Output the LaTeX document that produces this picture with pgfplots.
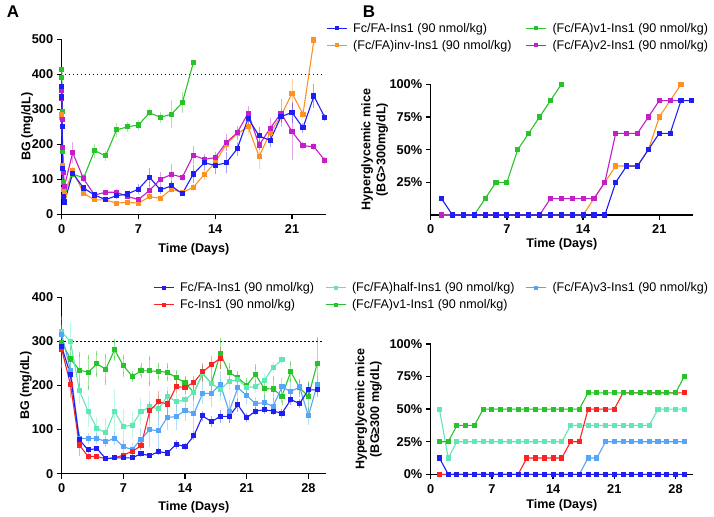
\documentclass[border=0pt]{standalone}
\usepackage{fontspec}
\setmainfont{Liberation Sans}
\usepackage{pgfplots}
\pgfplotsset{compat=1.18}
\definecolor{cblue}{RGB}{30,30,245}
\definecolor{corange}{RGB}{255,145,35}
\definecolor{cgreen}{RGB}{40,195,40}
\definecolor{cmag}{RGB}{195,30,200}
\definecolor{cred}{RGB}{250,35,35}
\definecolor{cmint}{RGB}{95,232,180}
\definecolor{clblue}{RGB}{85,165,250}
\newcommand{\fs}{\fontsize{12.6}{15}\selectfont}
\newcommand{\ft}{\fontsize{12.8}{15}\selectfont}
\pgfplotsset{
  panel/.style={
    scale only axis, axis lines=left, axis line style={line width=1.4bp,-},
    tick align=outside, major tick length=5bp, tick style={line width=1.3bp, black},
    clip=false,
    tick label style={font=\bfseries\ft},
    xticklabel style={yshift=-1.5bp},
    /pgf/number format/assume math mode=true,
    label style={font=\bfseries\fs},
    legend image code/.code={\draw[mark repeat=2, mark phase=2, line width=1bp, mark size=1.5bp] plot coordinates {(0bp,0bp)(10bp,0bp)(20bp,0bp)};},
  },
  ser/.style={color=#1, mark=square*, mark size=2bp, line width=1.1bp, mark options={solid}},
  eb/.style={/pgfplots/error bars/y dir=both, /pgfplots/error bars/y explicit,
    /pgfplots/error bars/error mark=none,
    /pgfplots/error bars/error bar style={line width=1bp, opacity=0.4}},
  ebc/.style={/pgfplots/error bars/y dir=both, /pgfplots/error bars/y explicit,
    /pgfplots/error bars/error mark=-,
    /pgfplots/error bars/error mark options={mark size=2.2bp, line width=0.9bp, opacity=0.5},
    /pgfplots/error bars/error bar style={line width=1bp, opacity=0.4}},
}
\begin{document}
\begin{tikzpicture}
\path[use as bounding box] (0,0) rectangle (714bp,517bp);
\node[font=\bfseries\fontsize{17}{17}\selectfont] at (13bp,505bp) {A};
\node[font=\bfseries\fontsize{17}{17}\selectfont] at (369bp,505bp) {B};

% ---------------- top left
\begin{axis}[panel,
  at={(61.7bp,302.7bp)}, anchor=south west, width=264.3bp, height=175bp,
  xmin=0, xmax=24.1, ymin=0, ymax=500,
  xtick={0,7,14,21}, ytick={0,100,200,300,400,500},
  xlabel={Time (Days)}, ylabel={BG (mg/dL)},
  xlabel style={at={(rel axis cs:0.5,-0.2)}, anchor=center},
  ylabel style={at={(rel axis cs:-0.131,0.5)}, anchor=center},
  legend columns=2, transpose legend, legend cell align=left,
  legend style={at={(rel axis cs:1.0,1.105)}, anchor=north west, draw=none, fill=none,
    inner sep=0pt, font=\fs, row sep=2.5bp,
    /tikz/every odd column/.append style={column sep=4bp},
    /tikz/every even column/.append style={column sep=12bp}},
]
\addplot[forget plot, mark=none, black, line width=1.3bp, dash pattern=on 1.3bp off 2.7bp] coordinates {(0.3,400) (24,400)};
\addplot[forget plot, ser=cgreen, eb] table[x=x,y=y,y error=e] {
x y e
0 414 0
0.02 391 0
0.04 293 0
0.08 180 0
0.17 90 0
0.25 65 0
1 115 10
2 104 10
3 182 20
4 167 15
5 241 20
6 250 15
7 255 15
8 290 10
9 277 15
10 286 40
11 319 30
12 433 0
};
\addplot[forget plot, ser=corange, eb] table[x=x,y=y,y error=e] {
x y e
0 285 0
0.02 278 0
0.04 270 0
0.08 140 0
0.17 70 0
0.25 55 0
1 125 10
2 60 8
3 41 5
4 41 5
5 32 5
6 34 5
7 32 5
8 50 8
9 46 8
10 72 10
11 62 8
12 77 10
13 114 15
14 148 20
15 200 20
16 230 15
17 250 20
18 165 35
19 233 20
20 281 20
21 346 40
22 286 10
23 498 0
};
\addplot[forget plot, ser=cmag, eb] table[x=x,y=y,y error=e] {
x y e
0 355 0
0.02 330 0
0.04 270 0
0.08 190 0
0.17 120 0
0.25 80 0
1 176 30
2 101 10
3 55 6
4 63 6
5 63 8
6 51 6
7 42 6
8 68 15
9 100 20
10 114 30
11 106 10
12 169 25
13 157 15
14 162 15
15 205 25
16 233 20
17 289 20
18 198 15
19 245 30
20 289 40
21 236 80
22 196 10
23 193 10
24 154 10
};
\addplot[forget plot, ser=cblue, eb] table[x=x,y=y,y error=e] {
x y e
0 365 0
0.02 335 0
0.04 252 0
0.08 130 0
0.17 50 0
0.25 35 0
1 117 10
2 75 8
3 55 5
4 42 5
5 53 8
6 58 8
7 72 15
8 106 25
9 70 12
10 81 15
11 59 8
12 115 25
13 147 20
14 140 25
15 147 30
16 187 20
17 274 15
18 224 25
19 211 20
20 279 15
21 291 30
22 247 15
23 338 35
24 276 10
};
\addlegendimage{ser=cblue}\addlegendentry{\mdseries Fc/FA-Ins1 (90 nmol/kg)}
\addlegendimage{ser=corange}\addlegendentry{\mdseries (Fc/FA)inv-Ins1 (90 nmol/kg)}
\addlegendimage{ser=cgreen}\addlegendentry{\mdseries (Fc/FA)v1-Ins1 (90 nmol/kg)}
\addlegendimage{ser=cmag}\addlegendentry{\mdseries (Fc/FA)v2-Ins1 (90 nmol/kg)}
\end{axis}

% ---------------- top right
\begin{axis}[panel,
  at={(430.7bp,302bp)}, anchor=south west, width=262.3bp, height=130.7bp,
  xmin=0, xmax=24.1, ymin=0, ymax=100,
  xtick={0,7,14,21}, ytick={25,50,75,100}, yticklabels={25\%,50\%,75\%,100\%},
  xlabel={Time (Days)}, ylabel={Hyperglycemic mice\\(BG>300mg/dL)},
  xlabel style={at={(rel axis cs:0.5,-0.222)}, anchor=center},
  ylabel style={at={(rel axis cs:-0.214,0.5)}, anchor=center, align=center},
]
\addplot[ser=corange] coordinates {(1,0)(2,0)(3,0)(4,0)(5,0)(6,0)(7,0)(8,0)(9,0)(10,0)(11,0)(12,0)(13,0)(14,0)(15,12.5)(16,25)(17,37.5)(18,37.5)(19,37.5)(20,50)(21,75)(22,87.5)(23,100)};
\addplot[ser=cgreen] coordinates {(1,0)(2,0)(3,0)(4,0)(5,12.5)(6,25)(7,25)(8,50)(9,62.5)(10,75)(11,87.5)(12,100)};
\addplot[ser=cmag] coordinates {(1,0)(2,0)(3,0)(4,0)(5,0)(6,0)(7,0)(8,0)(9,0)(10,0)(11,12.5)(12,12.5)(13,12.5)(14,12.5)(15,12.5)(16,25)(17,62.5)(18,62.5)(19,62.5)(20,75)(21,87.5)(22,87.5)(23,87.5)};
\addplot[ser=cblue] coordinates {(1,12.5)(2,0)(3,0)(4,0)(5,0)(6,0)(7,0)(8,0)(9,0)(10,0)(11,0)(12,0)(13,0)(14,0)(15,0)(16,0)(17,25)(18,37.5)(19,37.5)(20,50)(21,62.5)(22,62.5)(23,87.5)(24,87.5)};
\end{axis}

% ---------------- bottom left
\begin{axis}[panel,
  at={(61.7bp,43.3bp)}, anchor=south west, width=264.3bp, height=176.4bp,
  xmin=0, xmax=30, ymin=0, ymax=400,
  xtick={0,7,14,21,28}, ytick={0,100,200,300,400},
  xlabel={Time (Days)}, ylabel={BG (mg/dL)},
  xlabel style={at={(rel axis cs:0.5,-0.192)}, anchor=center},
  ylabel style={at={(rel axis cs:-0.135,0.5)}, anchor=center},
  legend columns=3, legend cell align=left,
  legend style={at={(rel axis cs:0.345,1.098)}, anchor=north west, draw=none, fill=none,
    inner sep=0pt, font=\fs, row sep=2.5bp,
    /tikz/every odd column/.append style={column sep=4bp},
    /tikz/every even column/.append style={column sep=9bp}},
]
\addplot[forget plot, mark=none, black, line width=1.3bp, dash pattern=on 1.3bp off 2.7bp] coordinates {(0.3,300) (29.8,300)};
\addplot[forget plot, ser=cgreen, ebc] table[x=x,y=y,y error=e] {
x y e
0 298 55
1 260 25
2 235 35
3 230 35
4 249 25
5 237 30
6 281 20
7 245 20
8 221 8
9 233 12
10 233 30
11 232 15
12 230 15
13 218 12
14 206 10
15 184 12
16 227 15
17 205 15
18 272 30
19 230 15
20 217 10
21 201 12
22 225 18
23 193 20
24 192 25
25 176 15
26 231 20
27 195 15
28 175 30
29 250 55
};
\addplot[forget plot, ser=cmint, eb] table[x=x,y=y,y error=e] {
x y e
0 322 15
1 299 45
2 189 30
3 141 35
4 103 25
5 93 30
6 141 50
7 107 40
8 110 30
9 141 30
10 152 35
11 147 30
12 176 20
13 163 20
14 168 20
15 184 20
16 227 20
17 205 20
18 190 25
19 210 20
20 213 20
21 196 15
22 197 15
23 212 15
24 241 12
25 258 10
};
\addplot[forget plot, ser=clblue, eb] table[x=x,y=y,y error=e] {
x y e
0 316 10
1 235 20
2 80 15
3 80 12
4 80 12
5 73 12
6 80 15
7 61 15
8 55 15
9 78 25
10 100 40
11 97 40
12 128 30
13 129 30
14 144 25
15 136 40
16 182 25
17 182 30
18 203 30
19 141 25
20 195 20
21 177 20
22 159 15
23 161 15
24 153 15
25 197 20
26 186 20
27 197 15
28 131 20
29 202 20
};
\addplot[forget plot, ser=cred, eb] table[x=x,y=y,y error=e] {
x y e
0 282 10
1 202 30
2 65 25
3 39 8
4 39 5
5 34 5
6 36 5
7 42 6
8 51 8
9 63 10
10 143 20
11 163 25
12 158 30
13 197 15
14 196 15
15 207 15
16 231 20
17 247 20
18 262 25
};
\addplot[forget plot, ser=cblue, eb] table[x=x,y=y,y error=e] {
x y e
0 288 8
1 224 10
2 77 8
3 54 6
4 57 5
5 34 4
6 36 4
7 36 4
8 36 4
9 45 6
10 41 5
11 50 8
12 47 6
13 67 10
14 61 8
15 86 10
16 131 12
17 118 12
18 130 15
19 130 15
20 156 15
21 127 10
22 142 10
23 145 10
24 142 10
25 137 10
26 168 12
27 159 10
28 190 15
29 190 15
};
\addlegendimage{ser=cblue}\addlegendentry{\mdseries Fc/FA-Ins1 (90 nmol/kg)}
\addlegendimage{ser=cmint}\addlegendentry{\mdseries (Fc/FA)half-Ins1 (90 nmol/kg)}
\addlegendimage{ser=clblue}\addlegendentry{\mdseries (Fc/FA)v3-Ins1 (90 nmol/kg)}
\addlegendimage{ser=cred}\addlegendentry{\mdseries Fc-Ins1 (90 nmol/kg)}
\addlegendimage{ser=cgreen}\addlegendentry{\mdseries (Fc/FA)v1-Ins1 (90 nmol/kg)}
\end{axis}

% ---------------- bottom right
\begin{axis}[panel,
  at={(430.7bp,42.7bp)}, anchor=south west, width=262.3bp, height=130.3bp,
  xmin=0, xmax=30, ymin=0, ymax=100,
  xtick={0,7,14,21,28}, ytick={0,25,50,75,100}, yticklabels={0\%,25\%,50\%,75\%,100\%},
  xlabel={Time (Days)}, ylabel={Hyperglycemic mice\\(BG≥300 mg/dL)},
  xlabel style={at={(rel axis cs:0.5,-0.235)}, anchor=center},
  ylabel style={at={(rel axis cs:-0.237,0.5)}, anchor=center, align=center},
]
\addplot[ser=clblue] coordinates {(1,0)(2,0)(3,0)(4,0)(5,0)(6,0)(7,0)(8,0)(9,0)(10,0)(11,0)(12,0)(13,0)(14,0)(15,0)(16,0)(17,0)(18,12.5)(19,12.5)(20,25)(21,25)(22,25)(23,25)(24,25)(25,25)(26,25)(27,25)(28,25)(29,25)};
\addplot[ser=cmint] coordinates {(1,50)(2,12.5)(3,25)(4,25)(5,25)(6,25)(7,25)(8,25)(9,25)(10,25)(11,25)(12,25)(13,25)(14,25)(15,25)(16,37.5)(17,37.5)(18,37.5)(19,37.5)(20,37.5)(21,37.5)(22,37.5)(23,37.5)(24,37.5)(25,37.5)(26,50)(27,50)(28,50)(29,50)};
\addplot[ser=cred] coordinates {(1,0)(2,0)(3,0)(4,0)(5,0)(6,0)(7,0)(8,0)(9,0)(10,0)(11,12.5)(12,12.5)(13,12.5)(14,12.5)(15,12.5)(16,25)(17,25)(18,50)(19,50)(20,50)(21,50)(22,62.5)(23,62.5)(24,62.5)(25,62.5)(26,62.5)(27,62.5)(28,62.5)(29,62.5)};
\addplot[ser=cgreen] coordinates {(1,25)(2,25)(3,37.5)(4,37.5)(5,37.5)(6,50)(7,50)(8,50)(9,50)(10,50)(11,50)(12,50)(13,50)(14,50)(15,50)(16,50)(17,50)(18,62.5)(19,62.5)(20,62.5)(21,62.5)(22,62.5)(23,62.5)(24,62.5)(25,62.5)(26,62.5)(27,62.5)(28,62.5)(29,75)};
\addplot[ser=cblue] coordinates {(1,12.5)(2,0)(3,0)(4,0)(5,0)(6,0)(7,0)(8,0)(9,0)(10,0)(11,0)(12,0)(13,0)(14,0)(15,0)(16,0)(17,0)(18,0)(19,0)(20,0)(21,0)(22,0)(23,0)(24,0)(25,0)(26,0)(27,0)(28,0)(29,0)};
\end{axis}
\end{tikzpicture}
\end{document}
